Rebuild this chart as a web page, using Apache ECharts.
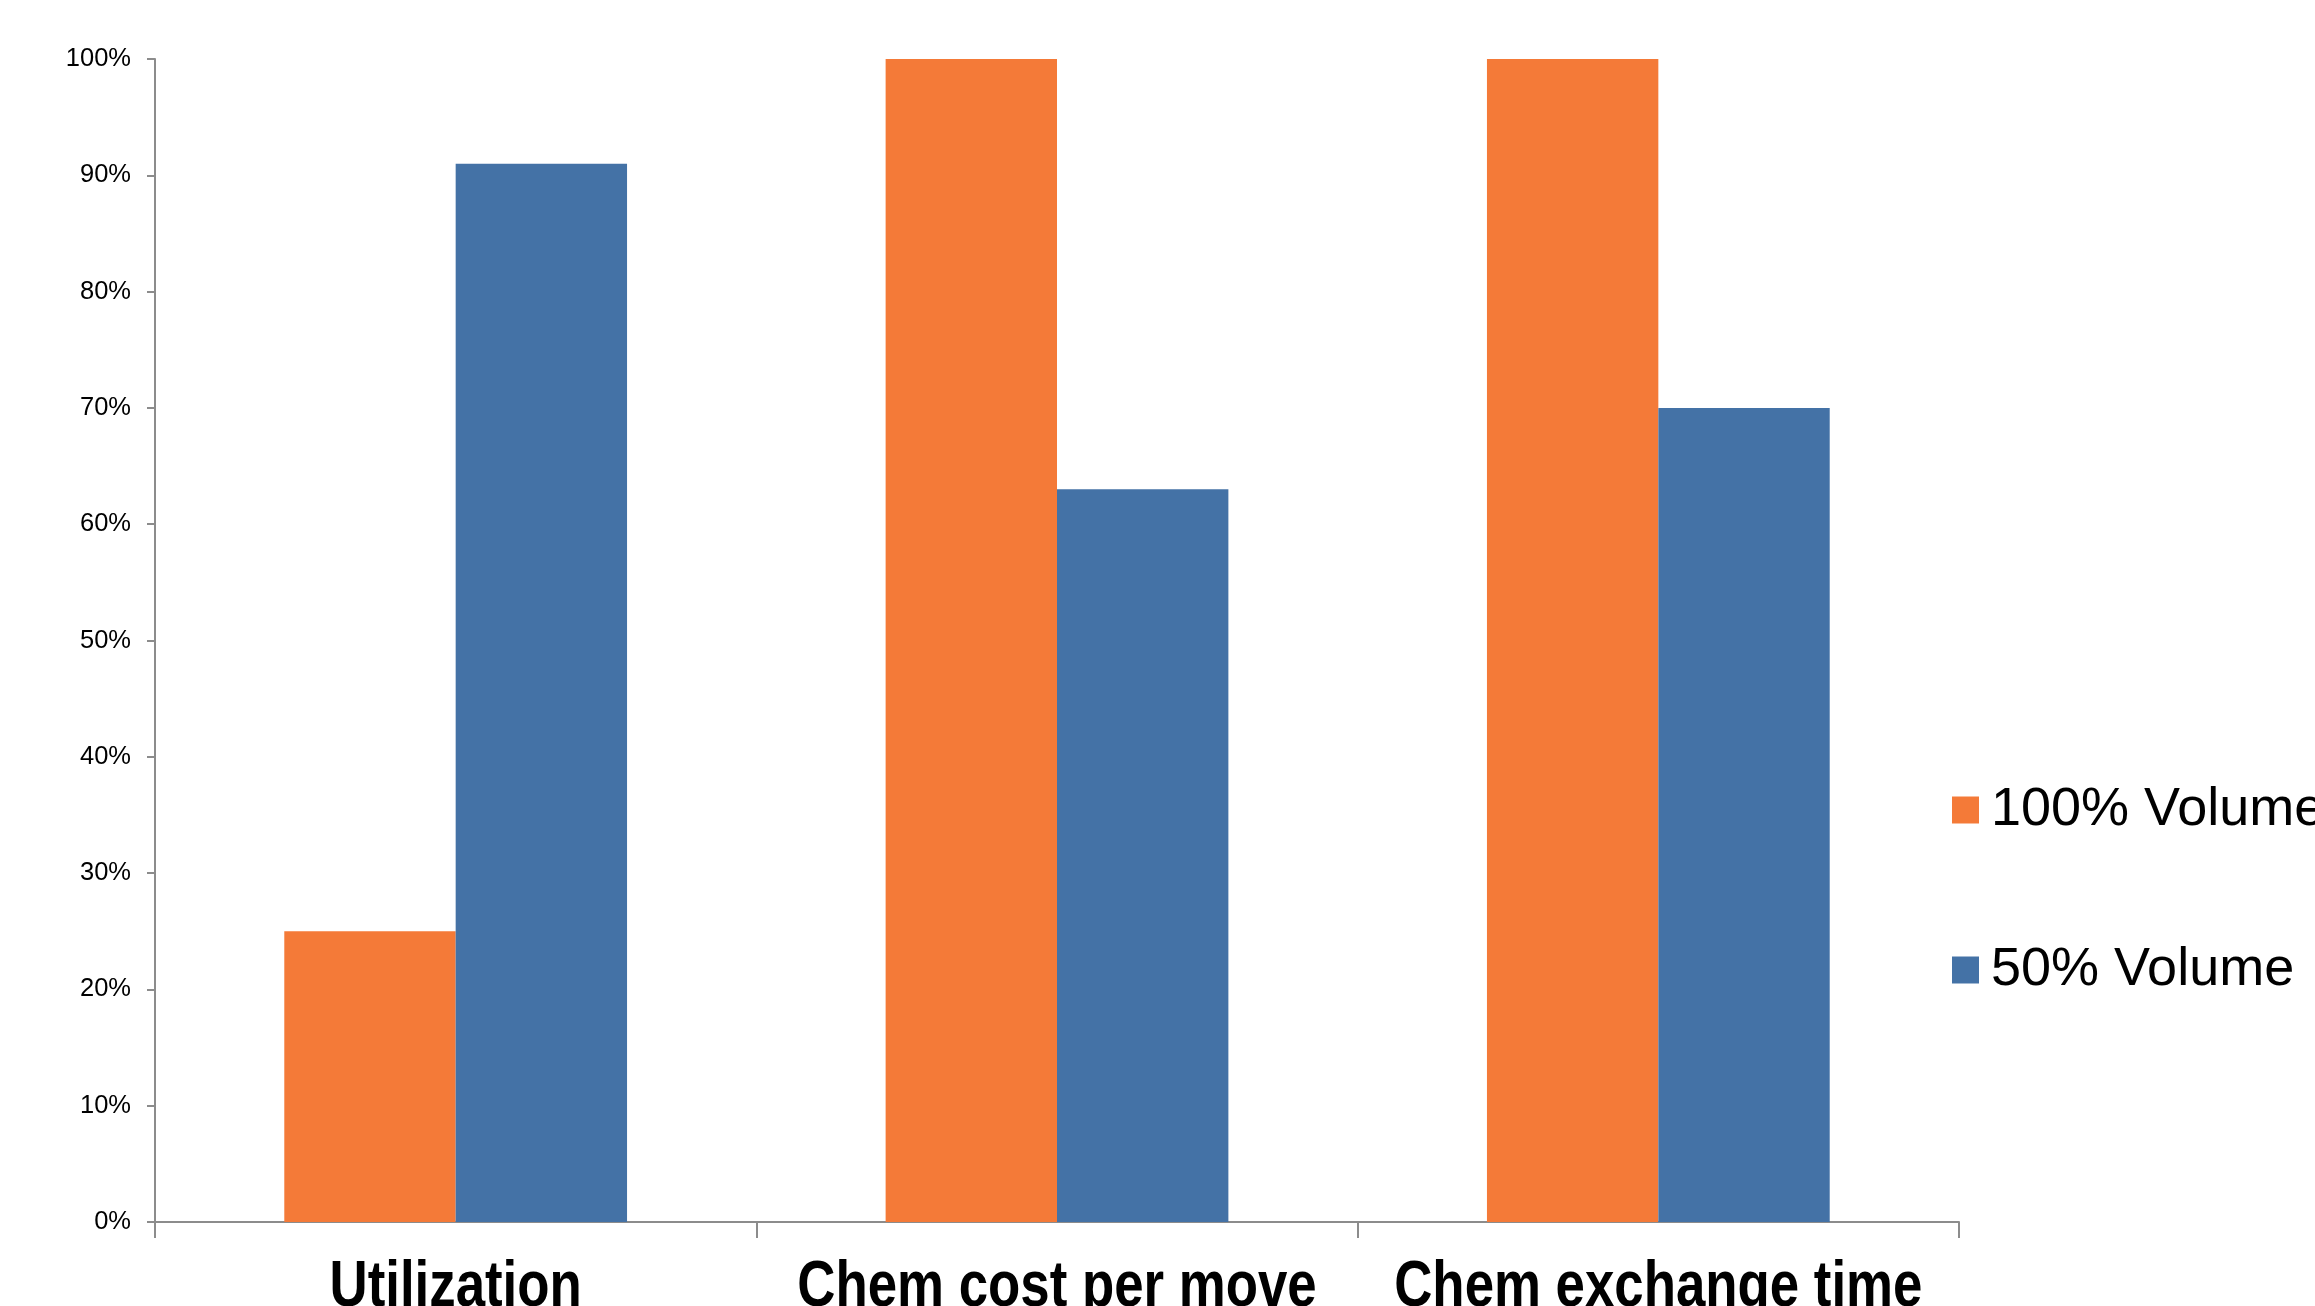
<!DOCTYPE html>
<html>
<head>
<meta charset="utf-8">
<script src="https://cdn.jsdelivr.net/npm/echarts@6/dist/echarts.min.js"></script>
<style>
  html, body { margin: 0; padding: 0; background: #ffffff; }
  #chart { width: 2315px; height: 1306px; }
</style>
</head>
<body>
<div id="chart"></div>
<script>
// Categories and series values (percent)
const categories = ['Utilization', 'Chem cost per move', 'Chem exchange time'];
const fullVolume = [25, 100, 100];
const halfVolume = [91, 63, 70];
const seriesNames = ['100% Volume', '50% Volume'];
const yTicks = { min: 0, max: 100, interval: 10 };

const chart = echarts.init(document.getElementById('chart'));

chart.setOption({
  backgroundColor: '#ffffff',
  animation: false,
  grid: { left: 155, right: 356, top: 59, bottom: 84, containLabel: false, outerBoundsMode: 'none' },
  legend: {
    orient: 'vertical',
    left: 1947,
    top: 775,
    itemWidth: 27,
    itemHeight: 27,
    itemGap: 100,
    icon: 'rect',
    data: seriesNames,
    textStyle: {
      fontFamily: '"Liberation Sans", Arial, sans-serif',
      fontSize: 54,
      lineHeight: 60,
      color: '#000000',
      padding: [0, 0, 0, 7]
    }
  },
  xAxis: {
    type: 'category',
    data: categories,
    boundaryGap: true,
    axisLine: { lineStyle: { color: '#8c8c8c', width: 2 } },
    axisTick: { show: true, length: 16, lineStyle: { color: '#8c8c8c', width: 2 } },
    // category names are drawn below as condensed bold text
    axisLabel: { show: false }
  },
  yAxis: {
    type: 'value',
    min: yTicks.min,
    max: yTicks.max,
    interval: yTicks.interval,
    axisLine: { show: true, lineStyle: { color: '#8c8c8c', width: 2 } },
    axisTick: { show: true, length: 8, lineStyle: { color: '#8c8c8c', width: 2 } },
    splitLine: { show: false },
    axisLabel: {
      margin: 24,
      formatter: '{value}%',
      fontFamily: '"Liberation Sans", Arial, sans-serif',
      fontSize: 25.5,
      color: '#000000'
    }
  },
  series: [
    {
      name: seriesNames[0],
      type: 'bar',
      data: fullVolume,
      barGap: '0%',
      barCategoryGap: '43%',
      itemStyle: { color: '#F47A38' }
    },
    {
      name: seriesNames[1],
      type: 'bar',
      data: halfVolume,
      barGap: '0%',
      barCategoryGap: '43%',
      itemStyle: { color: '#4472A6' }
    }
  ]
});

// Condensed bold category labels, centred on each category via the axis scale
const axisY = chart.convertToPixel({ yAxisIndex: 0 }, 0);
chart.setOption({
  graphic: categories.map(function (name, i) {
    return {
      type: 'text',
      x: chart.convertToPixel({ xAxisIndex: 0 }, i),
      y: axisY + 34,
      scaleX: 0.825,
      silent: true,
      style: {
        text: name,
        fill: '#000000',
        font: 'bold 64px "Liberation Sans", Arial, sans-serif',
        textAlign: 'center',
        textVerticalAlign: 'top'
      }
    };
  })
});
</script>
</body>
</html>
